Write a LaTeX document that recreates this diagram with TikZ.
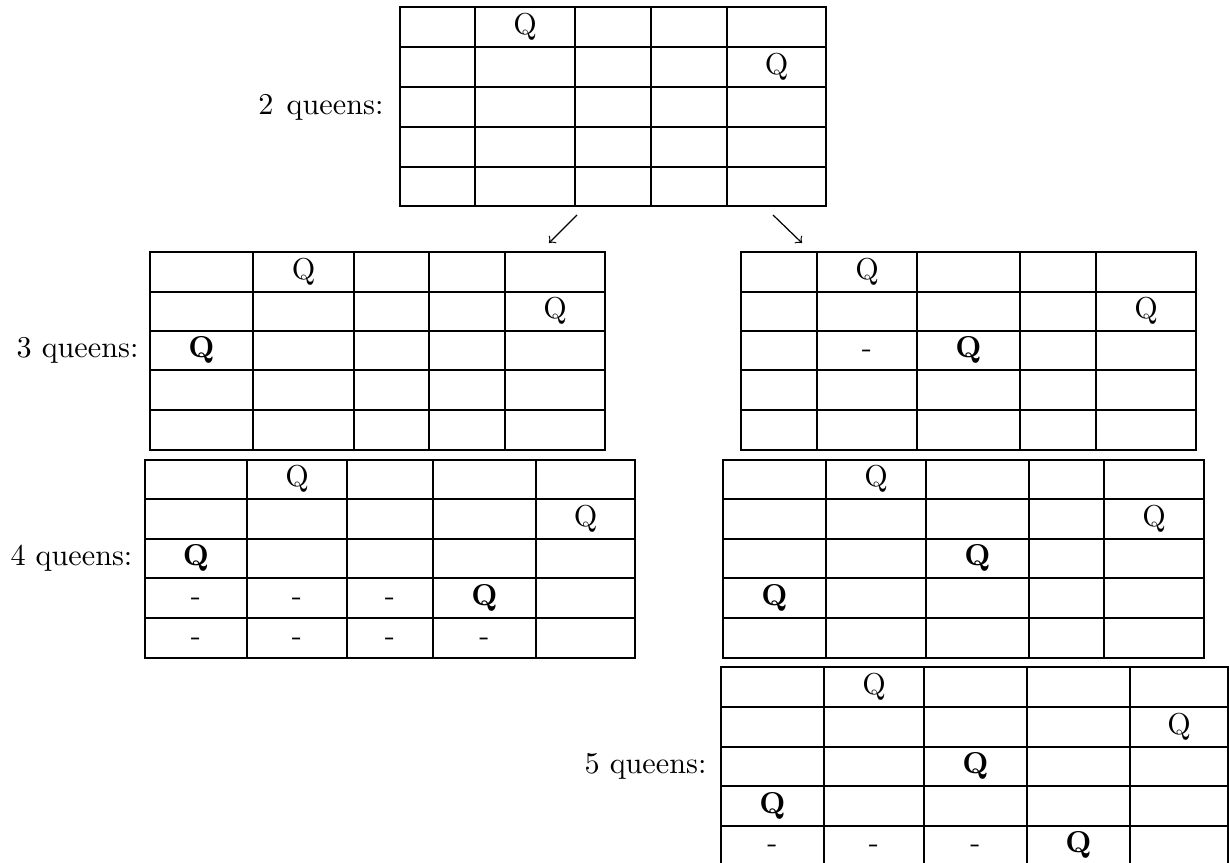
\documentclass[tikz,border=0pt]{standalone}
\usetikzlibrary{positioning}

\providecommand{\tablero}[6]{
    \draw[linea] (#1,#3) rectangle (#2,#4);
    \foreach \x in {#5} \draw[linea] (\x,#3) -- (\x,#4);
    \foreach \y in {#6} \draw[linea] (#1,\y) -- (#2,\y);
}

\begin{document}
\begin{tikzpicture}[
    x=0.3311pt, y=-0.3311pt,
    linea/.style={line width=0.4pt},
    casilla/.style={inner sep=0pt, text height=6.83pt, text depth=1.94pt, anchor=center},
    etiqueta/.style={inner sep=0pt, text height=6.83pt, text depth=1.94pt, anchor=east}
]
    \useasboundingbox (0,0) rectangle (1229,863);

    % TABLERO 1: 2 REINAS
    \tablero{400}{826}{7}{206}{475,575,651,727}{47,87,127,167}
    \node[etiqueta] (et2) at (384,107) {2\hspace{4.4pt}queens:};
    \node[casilla] (a12) at (525,27) {Q};
    \node[casilla] (a25) at (776.5,67) {Q};

    % FLECHAS
    \coordinate (fi1) at (577,215);
    \coordinate (fi2) at (549,243);
    \coordinate (fd1) at (773,215);
    \coordinate (fd2) at (802,243);
    \draw[linea, ->] (fi1) -- (fi2);
    \draw[linea, ->] (fd1) -- (fd2);

    % RAMA IZQUIERDA
    \tablero{150}{605}{252}{450}{253,354,429,505}{292,331,370,410}
    \node[etiqueta] (et3) at (139,350.5) {3 queens:};
    \node[casilla] (b12) at (303.5,272) {Q};
    \node[casilla] (b25) at (555,311.5) {Q};
    \node[casilla] (b31) at (201.5,350.5) {\textbf{Q}};

    \tablero{145}{635}{460}{658}{247,347,433,536}{499,539,578,618}
    \node[etiqueta] (et4) at (133,558.5) {4 queens:};
    \node[casilla] (c12) at (297,479.5) {Q};
    \node[casilla] (c25) at (585.5,519) {Q};
    \node[casilla] (c31) at (196,558.5) {\textbf{Q}};
    \node[casilla] (c41) at (196,598) {-};
    \node[casilla] (c42) at (297,598) {-};
    \node[casilla] (c43) at (390,598) {-};
    \node[casilla] (c44) at (484.5,598) {\textbf{Q}};
    \node[casilla] (c51) at (196,638) {-};
    \node[casilla] (c52) at (297,638) {-};
    \node[casilla] (c53) at (390,638) {-};
    \node[casilla] (c54) at (484.5,638) {-};

    % RAMA DERECHA
    \tablero{741}{1196}{252}{450}{817,917,1020,1096}{292,331,370,410}
    \node[casilla] (d12) at (867,272) {Q};
    \node[casilla] (d25) at (1146,311.5) {Q};
    \node[casilla] (d32) at (867,350.5) {-};
    \node[casilla] (d33) at (968.5,350.5) {\textbf{Q}};

    \tablero{723}{1204}{460}{658}{826,926,1029,1104}{499,539,578,618}
    \node[casilla] (e12) at (876,479.5) {Q};
    \node[casilla] (e25) at (1154,519) {Q};
    \node[casilla] (e33) at (977.5,558.5) {\textbf{Q}};
    \node[casilla] (e41) at (774.5,598) {\textbf{Q}};

    \tablero{721}{1228}{667}{865}{824,924,1027,1130}{707,747,786,826}
    \node[etiqueta] (et5) at (707,766.5) {5 queens:};
    \node[casilla] (f12) at (874,687) {Q};
    \node[casilla] (f25) at (1179,727) {Q};
    \node[casilla] (f33) at (975.5,766.5) {\textbf{Q}};
    \node[casilla] (f41) at (772.5,806) {\textbf{Q}};
    \node[casilla] (f51) at (772.5,845.5) {-};
    \node[casilla] (f52) at (874,845.5) {-};
    \node[casilla] (f53) at (975.5,845.5) {-};
    \node[casilla] (f54) at (1078.5,845.5) {\textbf{Q}};

\end{tikzpicture}
\end{document}
